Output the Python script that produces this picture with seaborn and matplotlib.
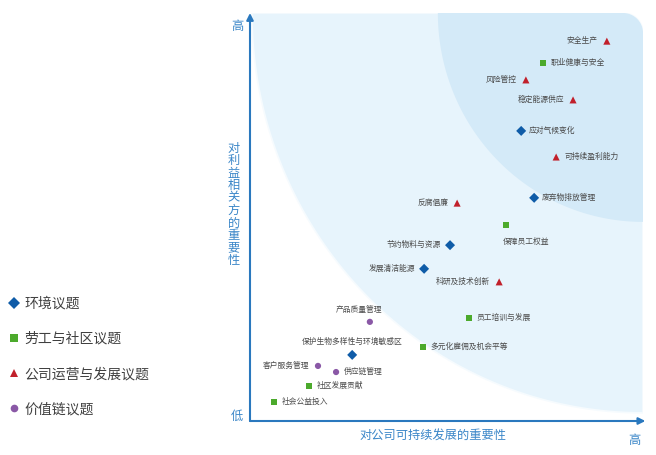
import numpy as np
import pandas as pd
import matplotlib
matplotlib.use("Agg")
import matplotlib.pyplot as plt
from matplotlib.lines import Line2D
from matplotlib.patches import Polygon
import seaborn as sns

# ---- data (0-100 on both axes) ----
env_names = ["应对气候变化", "废弃物排放管理", "节约物料与资源", "发展清洁能源", "保护生物多样性与环境敏感区"]
env_x = [69.0, 72.3, 50.9, 44.3, 26.0]
env_y = [71.1, 54.7, 43.1, 37.3, 16.2]

labor_names = ["职业健康与安全", "保障员工权益", "员工培训与发展", "多元化雇佣及机会平等", "社区发展贡献", "社会公益投入"]
labor_x = [74.6, 65.1, 55.7, 44.0, 15.0, 6.1]
labor_y = [87.7, 48.0, 25.2, 18.1, 8.6, 4.7]

ops_names = ["安全生产", "风险管控", "稳定能源供应", "可持续盈利能力", "反腐倡廉", "科研及技术创新"]
ops_x = [90.8, 70.2, 82.2, 77.9, 52.7, 63.4]
ops_y = [93.1, 83.6, 78.7, 64.7, 53.4, 34.1]

chain_names = ["产品质量管理", "客户服务管理", "供应链管理"]
chain_x = [30.5, 17.3, 21.9]
chain_y = [24.3, 13.5, 12.0]

categories = ["环境议题", "劳工与社区议题", "公司运营与发展议题", "价值链议题"]

df = pd.concat([
    pd.DataFrame({"name": env_names, "x": env_x, "y": env_y, "cat": categories[0]}),
    pd.DataFrame({"name": labor_names, "x": labor_x, "y": labor_y, "cat": categories[1]}),
    pd.DataFrame({"name": ops_names, "x": ops_x, "y": ops_y, "cat": categories[2]}),
    pd.DataFrame({"name": chain_names, "x": chain_x, "y": chain_y, "cat": categories[3]}),
], ignore_index=True)

# ---- styles ----
colors = {"环境议题": "#0f5ca8", "劳工与社区议题": "#4caa2c",
          "公司运营与发展议题": "#c1202b", "价值链议题": "#8a58a6"}
markers = {"环境议题": "D", "劳工与社区议题": "s",
           "公司运营与发展议题": "^", "价值链议题": "o"}
sizes = {"环境议题": 26, "劳工与社区议题": 18,
         "公司运营与发展议题": 26, "价值链议题": 20}
axis_blue = "#2a78be"
text_blue = "#3a86c8"

# label placement: side or (dx_px, dy_px, ha)
label_side = {
    "安全生产": "l", "职业健康与安全": "r", "风险管控": "l", "稳定能源供应": "l",
    "应对气候变化": "r", "可持续盈利能力": "r", "废弃物排放管理": "r", "反腐倡廉": "l",
    "保障员工权益": (-3, -17, "left"), "节约物料与资源": "l", "发展清洁能源": "l",
    "科研及技术创新": "l", "员工培训与发展": "r", "产品质量管理": (-11, 12, "center"),
    "多元化雇佣及机会平等": "r", "保护生物多样性与环境敏感区": (0, 13, "center"),
    "客户服务管理": "l", "供应链管理": "r", "社区发展贡献": "r", "社会公益投入": "r",
}

sns.set_theme(style="white")
plt.rcParams["font.family"] = ["Noto Sans CJK SC", "DejaVu Sans"]

fig = plt.figure(figsize=(6.56, 4.55), dpi=100)
ax = fig.add_axes([250 / 656, 34 / 455, 393 / 656, 408 / 455])
ax.set_xlim(0, 100)
ax.set_ylim(0, 100)


def corner_region(rx, ry, cx=5.1, cy=4.9):
    t = np.linspace(np.pi, 1.5 * np.pi, 300)
    pts = [(100 + rx * np.cos(a), 100 + ry * np.sin(a)) for a in t]
    a2 = np.linspace(0, 0.5 * np.pi, 60)
    pts += [(100 - cx + cx * np.cos(a), 100 - cy + cy * np.sin(a)) for a in a2]
    return np.array(pts)


ax.add_patch(Polygon(corner_region(99.5, 98.0), closed=True, facecolor="#e7f4fc",
                     edgecolor="#f6fbfe", lw=1.2, zorder=0))
ax.add_patch(Polygon(corner_region(52.2, 51.2), closed=True, facecolor="#d4eaf8",
                     edgecolor="none", zorder=0.5))

sns.scatterplot(data=df, x="x", y="y", hue="cat", style="cat", size="cat",
                palette=colors, markers=markers, sizes=sizes,
                linewidth=0, legend=False, ax=ax, zorder=3)

for _, r in df.iterrows():
    side = label_side[r["name"]]
    if side == "r":
        dx, dy, ha = 8, 0, "left"
    elif side == "l":
        dx, dy, ha = -9, 0, "right"
    else:
        dx, dy, ha = side
    ax.annotate(r["name"], (r["x"], r["y"]), xytext=(dx * 0.72, dy * 0.72),
                textcoords="offset points", ha=ha, va="center",
                fontsize=5.6, color="#4a4a4a", zorder=4)

for s in ax.spines.values():
    s.set_visible(False)
ax.set_xticks([])
ax.set_yticks([])
ax.set_xlabel("")
ax.set_ylabel("")

arrow = dict(arrowstyle="-|>", color=axis_blue, lw=1.5, mutation_scale=10,
             shrinkA=0, shrinkB=0)
ax.annotate("", xy=(1.006, 0), xytext=(0, 0), xycoords="axes fraction",
            textcoords="axes fraction", arrowprops=arrow, annotation_clip=False)
ax.annotate("", xy=(0, 1.0), xytext=(0, 0), xycoords="axes fraction",
            textcoords="axes fraction", arrowprops=arrow, annotation_clip=False)

ax.text(0.466, -0.037, "对公司可持续发展的重要性", transform=ax.transAxes,
        ha="center", va="center", fontsize=8.8, color=text_blue)
ax.text(0.977, -0.047, "高", transform=ax.transAxes, ha="center", va="center",
        fontsize=8.8, color=text_blue)
ax.text(-0.033, 0.012, "低", transform=ax.transAxes, ha="center", va="center",
        fontsize=8.8, color=text_blue)
ax.text(-0.033, 0.966, "高", transform=ax.transAxes, ha="center", va="center",
        fontsize=8.8, color=text_blue)
ax.text(-0.041, 0.531, "\n".join("对利益相关方的重要性"), transform=ax.transAxes,
        ha="center", va="center", fontsize=8.8, color=text_blue, linespacing=0.95)

handles = [Line2D([], [], marker=markers[c], color=colors[c], linestyle="none",
                  markersize={"环境议题": 6, "劳工与社区议题": 5.5,
                              "公司运营与发展议题": 6, "价值链议题": 5.5}[c],
                  markeredgewidth=0)
           for c in categories]
fig.legend(handles, categories, loc="center left", bbox_to_anchor=(8 / 656, 0.2165),
           frameon=False, fontsize=10, handlelength=0.8, handletextpad=0.35,
           labelspacing=1.52, borderpad=0, borderaxespad=0, labelcolor="#404040")

fig.savefig("out.png", dpi=100)
